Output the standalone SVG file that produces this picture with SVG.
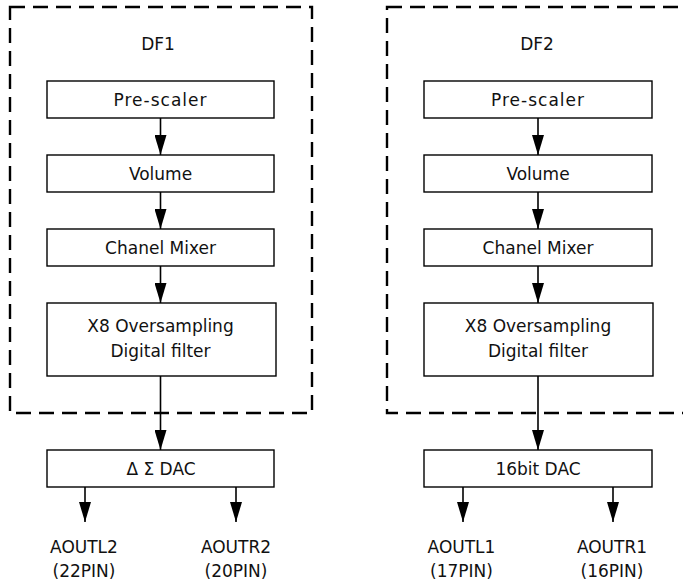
<svg xmlns="http://www.w3.org/2000/svg" width="683" height="587" viewBox="0 0 683 587">
<style>
.frame{fill:none;stroke:#000;stroke-width:2.4;stroke-dasharray:15 8}
.box{fill:#fff;stroke:#000;stroke-width:1.4}
.t{font-family:"DejaVu Sans","Liberation Sans",sans-serif;font-size:17px;fill:#111;text-anchor:middle}
.c{stroke:#000;stroke-width:1.6;fill:none;marker-end:url(#ah)}
</style>
<defs>
<marker id="ah" markerUnits="userSpaceOnUse" markerWidth="20" markerHeight="12" refX="20" refY="6" orient="auto">
<path d="M0,0 L20,6 L0,12 z" fill="#000"/>
</marker>
</defs>
<g id="df1">
<rect class="frame" x="10" y="7" width="302" height="406"/>
<text class="t" x="158" y="50">DF1</text>
</g>
<g id="df2">
<rect class="frame" x="387" y="7" width="320" height="406"/>
<text class="t" x="537" y="50">DF2</text>
</g>
<g id="prescaler1"><rect class="box" x="47" y="81" width="227" height="37"/><text class="t" x="160.5" y="106" letter-spacing="1">Pre-scaler</text></g>
<g id="volume1"><rect class="box" x="47" y="155" width="227" height="37"/><text class="t" x="160.5" y="180">Volume</text></g>
<g id="mixer1"><rect class="box" x="47" y="229" width="227" height="37"/><text class="t" x="160.5" y="254">Chanel Mixer</text></g>
<g id="filter1"><rect class="box" x="47" y="303" width="229" height="73"/><text class="t" x="160.5" y="332">X8 Oversampling</text><text class="t" x="160.5" y="357">Digital filter</text></g>
<g id="dac1"><rect class="box" x="47" y="450" width="227" height="37"/><text class="t" x="161" y="475">Δ Σ DAC</text></g>
<g id="aoutl2"><text class="t" x="84" y="553">AOUTL2</text><text class="t" x="84" y="577">(22PIN)</text></g>
<g id="aoutr2"><text class="t" x="236" y="553">AOUTR2</text><text class="t" x="236" y="577">(20PIN)</text></g>
<g id="prescaler2"><rect class="box" x="424" y="81" width="228" height="37"/><text class="t" x="538" y="106" letter-spacing="1">Pre-scaler</text></g>
<g id="volume2"><rect class="box" x="424" y="155" width="228" height="37"/><text class="t" x="538" y="180">Volume</text></g>
<g id="mixer2"><rect class="box" x="424" y="229" width="228" height="37"/><text class="t" x="538" y="254">Chanel Mixer</text></g>
<g id="filter2"><rect class="box" x="424" y="303" width="229" height="73"/><text class="t" x="538" y="332">X8 Oversampling</text><text class="t" x="538" y="357">Digital filter</text></g>
<g id="dac2"><rect class="box" x="424" y="450" width="228" height="37"/><text class="t" x="538" y="475">16bit DAC</text></g>
<g id="aoutl1"><text class="t" x="461.5" y="553">AOUTL1</text><text class="t" x="461.5" y="577">(17PIN)</text></g>
<g id="aoutr1"><text class="t" x="612" y="553">AOUTR1</text><text class="t" x="612" y="577">(16PIN)</text></g>
<g id="connectors">
<line class="c" x1="160.5" y1="118" x2="160.5" y2="155"/>
<line class="c" x1="160.5" y1="192" x2="160.5" y2="229"/>
<line class="c" x1="160.5" y1="266" x2="160.5" y2="303"/>
<line class="c" x1="160.5" y1="376" x2="160.5" y2="450"/>
<line class="c" x1="85" y1="487" x2="85" y2="522"/>
<line class="c" x1="236" y1="487" x2="236" y2="522"/>
<line class="c" x1="538" y1="118" x2="538" y2="155"/>
<line class="c" x1="538" y1="192" x2="538" y2="229"/>
<line class="c" x1="538" y1="266" x2="538" y2="303"/>
<line class="c" x1="538" y1="376" x2="538" y2="450"/>
<line class="c" x1="463" y1="487" x2="463" y2="522"/>
<line class="c" x1="613" y1="487" x2="613" y2="522"/>
</g>
</svg>
